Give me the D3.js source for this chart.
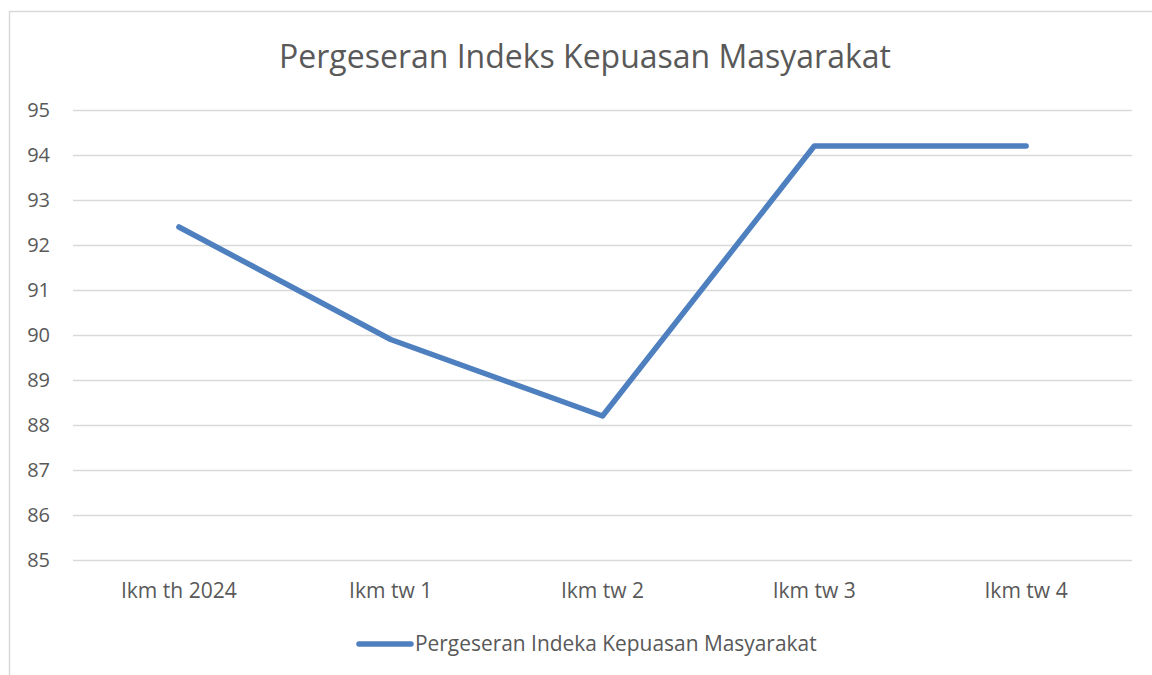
<!DOCTYPE html>
<html>
<head>
<meta charset="utf-8">
<script src="https://cdn.jsdelivr.net/npm/d3@7"></script>
<style>
  body { margin: 0; background: #fff; }
  text { font-family: "Open Sans", "Noto Sans", sans-serif; fill: #595959; }
</style>
</head>
<body>
<div id="chart"></div>
<script>
var categories = ["Ikm th 2024", "Ikm tw 1", "Ikm tw 2", "Ikm tw 3", "Ikm tw 4"];
var values = [92.4, 89.9, 88.2, 94.2, 94.2];
var yTicks = [85, 86, 87, 88, 89, 90, 91, 92, 93, 94, 95];
var title = "Pergeseran Indeks Kepuasan Masyarakat";
var seriesName = "Pergeseran Indeka Kepuasan Masyarakat";

var width = 1152,
  height = 675;

var svg = d3
  .select("#chart")
  .append("svg")
  .attr("width", width)
  .attr("height", height);

// chart frame (cropped on the right and bottom)
svg
  .append("rect")
  .attr("x", 9.5)
  .attr("y", 11.5)
  .attr("width", width + 20)
  .attr("height", height + 20)
  .style("fill", "none")
  .style("stroke", "#d9d9d9")
  .style("stroke-width", 1.5);

var x = d3.scaleBand().domain(categories).range([73, 1132]);
var y = d3.scaleLinear().domain([85, 95]).range([560, 110]);

// fit text to a given pixel width
function fit(sel, target) {
  var w = sel.node().getComputedTextLength();
  var fs = parseFloat(sel.style("font-size"));
  sel.style("font-size", fs * target / w + "px");
}

var t = svg
  .append("text")
  .attr("x", 585)
  .attr("y", 68)
  .attr("text-anchor", "middle")
  .style("font-size", "32px")
  .text(title);
fit(t, 612);

// gridlines
svg
  .append("g")
  .selectAll("line")
  .data(yTicks)
  .enter()
  .append("line")
  .attr("x1", 73)
  .attr("x2", 1132)
  .attr("y1", function(d) { return Math.round(y(d)) + 0.5; })
  .attr("y2", function(d) { return Math.round(y(d)) + 0.5; })
  .style("stroke", "#d9d9d9")
  .style("stroke-width", 1.5);

// y labels
svg
  .append("g")
  .selectAll("text")
  .data(yTicks)
  .enter()
  .append("text")
  .attr("x", 50)
  .attr("y", function(d) { return y(d) + 7; })
  .attr("text-anchor", "end")
  .style("font-size", "20px")
  .text(function(d) { return d; });

// x labels
var xl = svg
  .append("g")
  .selectAll("text")
  .data(categories)
  .enter()
  .append("text")
  .attr("x", function(d) { return x(d) + x.bandwidth() / 2; })
  .attr("y", 598)
  .attr("text-anchor", "middle")
  .style("font-size", "18px")
  .text(function(d) { return d; });
fit(d3.select(xl.nodes()[0]), 116);
xl.style("font-size", d3.select(xl.nodes()[0]).style("font-size"));

var line = d3
  .line()
  .x(function(d, i) { return x(categories[i]) + x.bandwidth() / 2; })
  .y(function(d) { return y(d); });

svg
  .append("path")
  .datum(values)
  .attr("d", line)
  .style("fill", "none")
  .style("stroke", "#4e7fbf")
  .style("stroke-width", 5.5)
  .style("stroke-linecap", "round")
  .style("stroke-linejoin", "round");

// legend
svg
  .append("line")
  .attr("x1", 359)
  .attr("x2", 411)
  .attr("y1", 644)
  .attr("y2", 644)
  .style("stroke", "#4e7fbf")
  .style("stroke-width", 5.5)
  .style("stroke-linecap", "round");

var lt = svg
  .append("text")
  .attr("x", 415)
  .attr("y", 651)
  .style("font-size", "20px")
  .text(seriesName);
fit(lt, 402);
</script>
</body>
</html>
